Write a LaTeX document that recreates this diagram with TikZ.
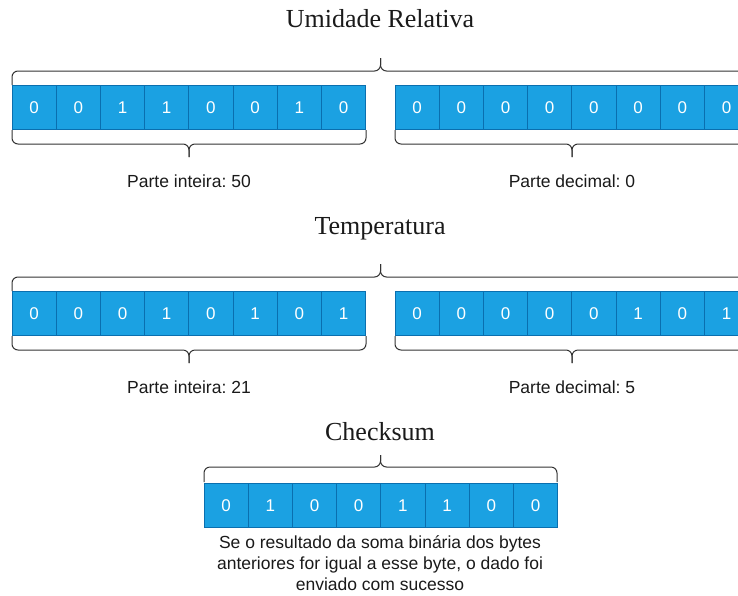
\documentclass[tikz,border=0pt]{standalone}
\usepackage{fontspec}
\setmainfont{Liberation Serif}
\setsansfont{Liberation Sans}
\frenchspacing
\definecolor{cellfill}{HTML}{1BA1E2}
\definecolor{cellline}{HTML}{0A6FAF}
\definecolor{txt}{HTML}{1A1A1A}
\newcommand\bytecells[4]{%
  \foreach \d [count=\i from 0] in {#4} {\node[cell] (#1\i) at ({#2+22.1+44.2*\i},#3) {\d};}}
\newcommand\curlybrace[5]{%
  \coordinate (m) at ({(#1+#2)/2},#3);
  \draw[brace] (#1,#4) |- (m) -- ({(#1+#2)/2},#5);
  \draw[brace] (#2,#4) |- (m) -- ({(#1+#2)/2},#5);}
\begin{document}
\begin{tikzpicture}[x=1pt,y=-1pt,
  cell/.style={rectangle, draw=cellline, fill=cellfill, line width=0.8pt, minimum width=44.2pt, minimum height=43.5pt, inner sep=0pt, text=white, font=\sffamily\fontsize{17}{20}\selectfont},
  brace/.style={draw=black!80, line width=1pt, rounded corners=6pt},
  title/.style={font=\rmfamily\fontsize{26}{30}\selectfont, text=txt, inner sep=0pt, anchor=base},
  lbl/.style={font=\sffamily\fontsize{17.5}{21}\selectfont, text=txt, inner sep=0pt, anchor=base}]
\path[use as bounding box] (0,0) rectangle (738,595);
\clip (0,0) rectangle (738,595);
\fill[white] (0,0) rectangle (738,595);

% Row 1
\node[title] (t1) at (380,27) {Umidade Relativa};
\curlybrace{12}{749}{71}{85}{58}
\bytecells{a}{12}{107.5}{0,0,1,1,0,0,1,0}
\bytecells{b}{395}{107.5}{0,0,0,0,0,0,0,0}
\curlybrace{12}{366}{144}{130}{157}
\curlybrace{395}{749}{144}{130}{157}
\node[lbl] (l1) at (189,187) {Parte inteira: 50};
\node[lbl] (l2) at (572,187) {Parte decimal: 0};

% Row 2
\node[title] (t2) at (380,234) {Temperatura};
\curlybrace{12}{749}{277}{291}{264}
\bytecells{c}{12}{313.5}{0,0,0,1,0,1,0,1}
\bytecells{d}{395}{313.5}{0,0,0,0,0,1,0,1}
\curlybrace{12}{366}{350}{336}{363}
\curlybrace{395}{749}{350}{336}{363}
\node[lbl] (l3) at (189,393) {Parte inteira: 21};
\node[lbl] (l4) at (572,393) {Parte decimal: 5};

% Row 3
\node[title] (t3) at (380,440) {Checksum};
\curlybrace{204}{557}{467}{482}{455}
\bytecells{e}{204}{505.5}{0,1,0,0,1,1,0,0}
\node[lbl, anchor=north, align=center] (l5) at (380,535)
  {Se o resultado da soma binária dos bytes\\anteriores for igual a esse byte, o dado foi\\enviado com sucesso};
\end{tikzpicture}
\end{document}
